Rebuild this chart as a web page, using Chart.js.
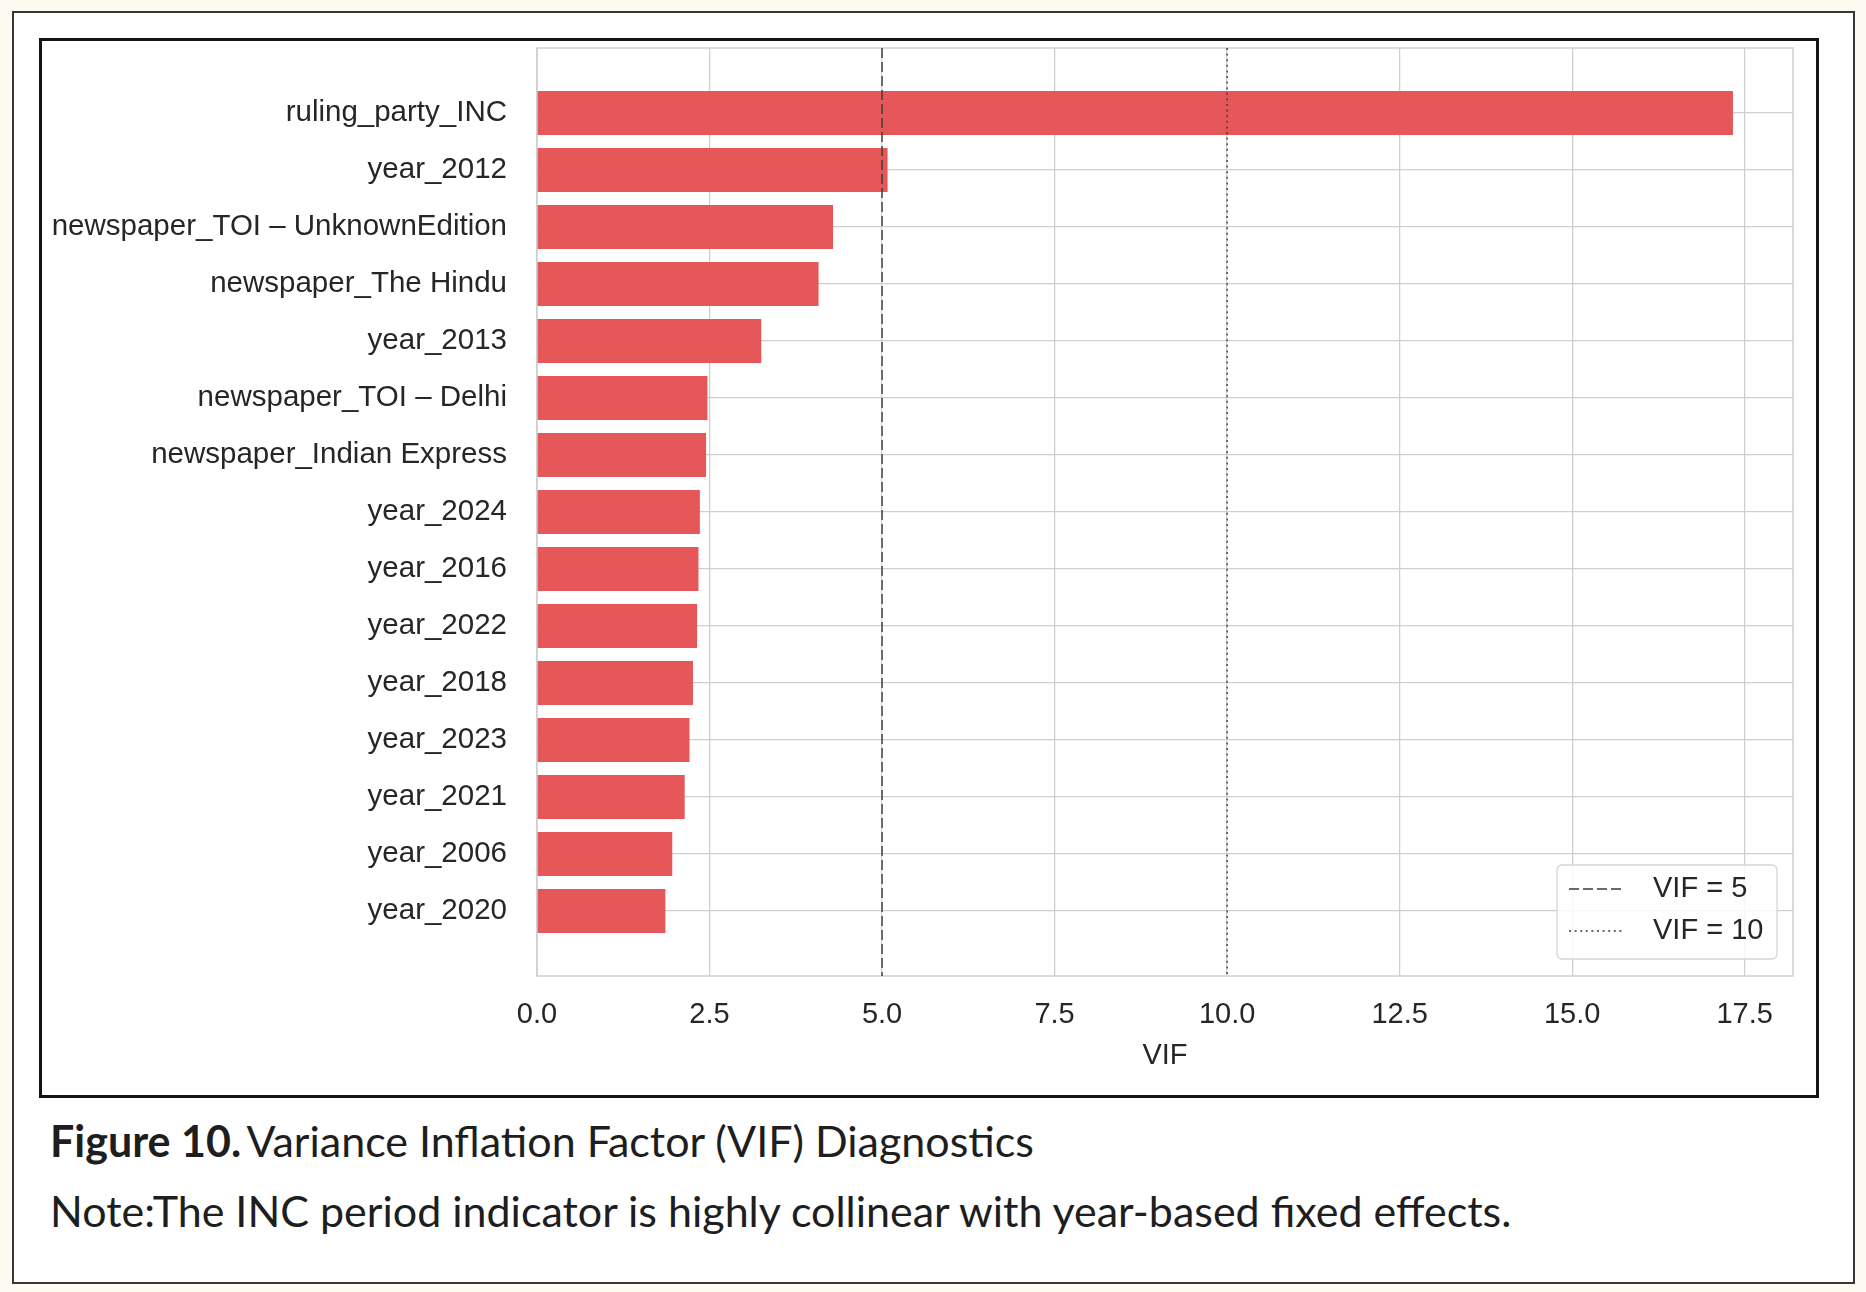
<!DOCTYPE html>
<html>
<head>
<meta charset="utf-8">
<title>Variance Inflation Factor (VIF) Diagnostics</title>
<script src="https://cdn.jsdelivr.net/npm/chart.js@4.4.1/dist/chart.umd.min.js"></script>
<style>
  html, body { margin: 0; padding: 0; }
  body {
    width: 1866px; height: 1292px; position: relative; overflow: hidden;
    background: #fdfbf1;
  }
  #page {
    position: absolute; left: 12px; top: 11px; width: 1843px; height: 1273px;
    box-sizing: border-box; border: 2px solid #3b3631; background: #fff;
  }
  #frame {
    position: absolute; left: 39px; top: 38px; width: 1780px; height: 1060px;
    box-sizing: border-box; border: 3px solid #141414; background: #fff;
  }
  #chartBox { position: relative; width: 1774px; height: 1054px; }
  .caption {
    position: absolute; left: 50px; margin: 0;
    font-family: Lato, "Open Sans", sans-serif; font-size: 43px; line-height: 43px;
    color: #1e1e1e; white-space: nowrap;
  }
  #cap1 { top: 1119px; }
  #cap2 { top: 1189px; }
</style>
</head>
<body>
<div id="page"></div>
<div id="frame"><div id="chartBox"><canvas id="vifChart"></canvas></div></div>
<p class="caption" id="cap1"><b>Figure 10.</b>&#8201;Variance Inflation Factor (VIF) Diagnostics</p>
<p class="caption" id="cap2">Note:The INC period indicator is highly collinear with year-based fixed effects.</p>

<script>
// Predictors, top to bottom as plotted
const categories = [
    'ruling_party_INC',
    'year_2012',
    'newspaper_TOI \u2013 UnknownEdition',
    'newspaper_The Hindu',
    'year_2013',
    'newspaper_TOI \u2013 Delhi',
    'newspaper_Indian Express',
    'year_2024',
    'year_2016',
    'year_2022',
    'year_2018',
    'year_2023',
    'year_2021',
    'year_2006',
    'year_2020'
];

// VIF per predictor
const vifValues = [17.33, 5.08, 4.29, 4.08, 3.25, 2.47, 2.45, 2.36, 2.34, 2.32, 2.26, 2.21, 2.14, 1.96, 1.86];

// Reference thresholds
const thresholds = [5, 10];
const thresholdLabels = ['VIF = 5', 'VIF = 10'];

// Axis ranges / ticks
const X_MAX = 18.2;
const X_STEP = 2.5;
const Y_MIN = -1.14;
const Y_MAX = categories.length - 1 + 1.14;

const TEXT = '#262626';
const GRID = '#cfcfcf';
const BAR = '#e6575a';
const LINE = '#3a3a3a';
const dashes = [[10, 4], [2, 3.6]];

Chart.defaults.font.family = '"Liberation Sans", Arial, sans-serif';
Chart.defaults.font.size = 29;
Chart.defaults.color = TEXT;

/**
 * Light grey frame round the plot area (all four spines)
 */
const plotFrame = {
    id: 'plotFrame',
    beforeDatasetsDraw(chart) {
        const {ctx, chartArea: a} = chart;
        ctx.save();
        ctx.strokeStyle = GRID;
        ctx.lineWidth = 1.5;
        ctx.strokeRect(a.left, a.top, a.right - a.left, a.bottom - a.top);
        ctx.restore();
    }
};

/**
 * Legend box in the lower right corner of the plot, for the threshold lines
 */
const cornerLegend = {
    id: 'cornerLegend',
    afterDatasetsDraw(chart) {
        const {ctx, chartArea: a} = chart;
        const items = chart.data.datasets.filter(ds => ds.type === 'line');
        const w = 220, rowH = 42;
        const h = 10 + items.length * rowH;
        const x0 = a.right - 16 - w;
        const y0 = a.bottom - 17 - h;

        ctx.save();
        ctx.beginPath();
        ctx.roundRect(x0, y0, w, h, 5);
        ctx.fillStyle = 'rgba(255,255,255,0.82)';
        ctx.fill();
        ctx.strokeStyle = '#d6d6d6';
        ctx.lineWidth = 1.3;
        ctx.stroke();

        items.forEach((ds, i) => {
            const cy = y0 + 24 + i * rowH;
            ctx.beginPath();
            ctx.setLineDash(ds.borderDash || []);
            ctx.strokeStyle = ds.borderColor;
            ctx.lineWidth = ds.borderWidth;
            ctx.moveTo(x0 + 12, cy);
            ctx.lineTo(x0 + 67, cy);
            ctx.stroke();
            ctx.setLineDash([]);
            ctx.fillStyle = TEXT;
            ctx.font = '29px "Liberation Sans", Arial, sans-serif';
            ctx.textBaseline = 'middle';
            ctx.textAlign = 'left';
            ctx.fillText(ds.label, x0 + 96, cy);
        });
        ctx.restore();
    }
};

const thresholdSets = thresholds.map((t, i) => ({
    type: 'line',
    label: thresholdLabels[i],
    data: [{x: t, y: Y_MIN}, {x: t, y: Y_MAX}],
    borderColor: LINE,
    borderWidth: 1.4,
    borderDash: dashes[i],
    pointRadius: 0,
    fill: false,
    order: 1
}));

const ctx = document.getElementById('vifChart').getContext('2d');
new Chart(ctx, {
    type: 'bar',
    data: {
        datasets: [
            ...thresholdSets,
            {
                type: 'bar',
                label: 'VIF',
                data: vifValues.map((v, i) => ({x: v, y: i})),
                backgroundColor: BAR,
                borderWidth: 0,
                barPercentage: 0.77,
                categoryPercentage: 1.0,
                order: 2
            }
        ]
    },
    options: {
        indexAxis: 'y',
        responsive: true,
        maintainAspectRatio: false,
        animation: false,
        layout: {
            padding: {top: 7, right: 23, bottom: 22, left: 0}
        },
        plugins: {
            legend: {display: false},
            tooltip: {enabled: false}
        },
        scales: {
            x: {
                type: 'linear',
                position: 'bottom',
                min: 0,
                max: X_MAX,
                ticks: {
                    stepSize: X_STEP,
                    includeBounds: false,
                    padding: 22,
                    color: TEXT,
                    callback: v => v.toFixed(1)
                },
                grid: {color: GRID, lineWidth: 1.3, drawTicks: false},
                border: {display: false},
                title: {display: true, text: 'VIF', color: TEXT, padding: 0},
                afterFit(scale) {
                    scale.height = 97;
                    scale.paddingLeft = 0;
                    scale.paddingRight = 0;
                }
            },
            y: {
                type: 'linear',
                reverse: true,
                offset: false,
                min: Y_MIN,
                max: Y_MAX,
                afterBuildTicks(axis) {
                    axis.ticks = categories.map((c, i) => ({value: i}));
                },
                ticks: {
                    autoSkip: false,
                    padding: 30,
                    color: TEXT,
                    font: {size: 29.5},
                    callback: v => categories[v] ?? ''
                },
                grid: {color: GRID, lineWidth: 1.3, drawTicks: false, offset: false},
                border: {display: false},
                afterFit(scale) {
                    scale.width = 495;
                    scale.paddingTop = 0;
                    scale.paddingBottom = 0;
                }
            }
        }
    },
    plugins: [plotFrame, cornerLegend]
});
</script>
</body>
</html>
